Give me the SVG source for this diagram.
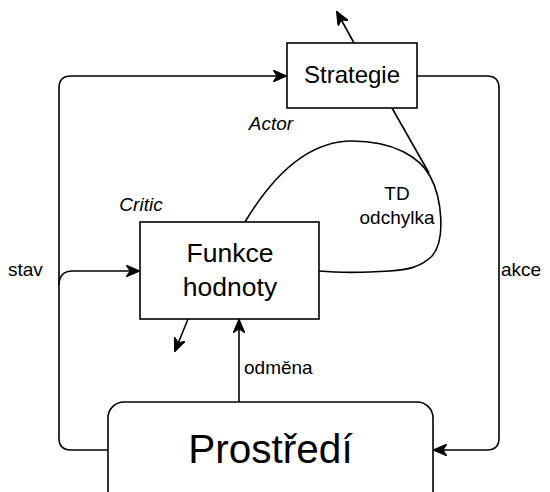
<svg xmlns="http://www.w3.org/2000/svg" width="550" height="492" viewBox="0 0 550 492">
  <style>
    .box { fill: #ffffff; stroke: #000000; stroke-width: 1.6; }
    .edge { fill: none; stroke: #000000; stroke-width: 1.6; }
    .arrow { marker-end: url(#arrowhead); }
    text { font-family: "Liberation Sans", Arial, sans-serif; fill: #000000; }
    .lbl { font-size: 19px; }
    .it { font-size: 19px; font-style: italic; }
  </style>
  <defs>
    <marker id="arrowhead" viewBox="0 0 14 12" markerWidth="14" markerHeight="12" refX="13" refY="6" orient="auto" markerUnits="userSpaceOnUse">
      <path d="M0,0 L14,6 L0,12 L4,6 Z" fill="#000000" stroke="#000000" stroke-width="1"/>
    </marker>
  </defs>

  <rect width="550" height="492" fill="#ffffff"/>

  <!-- connectors -->
  <g id="connectors">
    <!-- stav -> Strategie -->
    <path class="edge arrow" d="M108,450 L71,450 Q59,450 59,438 L59,88 Q59,76 71,76 L286,76"/>
    <!-- stav -> Funkce hodnoty -->
    <path class="edge arrow" d="M59,285 Q59,271 73,271 L139,271"/>
    <!-- akce -> Prostředí -->
    <path class="edge arrow" d="M417,76 L487,76 Q499,76 499,88 L499,438 Q499,450 487,450 L434,450"/>
    <!-- odměna -->
    <path class="edge arrow" d="M239,402 L239,320"/>
    <!-- outputs -->
    <path class="edge arrow" d="M354,43 L337,12"/>
    <path class="edge arrow" d="M188,319 L175,351"/>
    <!-- TD error loop -->
    <path class="edge" d="M245,222 C275,172 310,141 352,141 C395,141 420,158 430,176 C442,198 446,240 432,256 C420,268 405,270 390,271 C360,273 340,273 319,271"/>
    <path class="edge" d="M392,108 L429,173"/>
  </g>

  <!-- nodes -->
  <g id="strategie">
    <rect class="box" x="287" y="43" width="130" height="65"/>
    <text x="352" y="83" font-size="24" text-anchor="middle">Strategie</text>
  </g>
  <g id="funkce-hodnoty">
    <rect class="box" x="140" y="222" width="179" height="97"/>
    <text x="230" y="262" font-size="26.5" text-anchor="middle">Funkce</text>
    <text x="230" y="296" font-size="26.5" text-anchor="middle">hodnoty</text>
  </g>
  <g id="prostredi">
    <rect class="box" x="108" y="402" width="325" height="110" rx="16" ry="16"/>
    <text x="270.5" y="463" font-size="40.5" text-anchor="middle">Prostředí</text>
  </g>

  <!-- labels -->
  <g id="labels">
    <text class="it" x="271" y="130" text-anchor="middle">Actor</text>
    <text class="it" x="141" y="211" text-anchor="middle">Critic</text>
    <text class="lbl" x="397" y="200" text-anchor="middle">TD</text>
    <text class="lbl" x="397" y="224" text-anchor="middle">odchylka</text>
    <text class="lbl" x="8" y="276">stav</text>
    <text class="lbl" x="501" y="276">akce</text>
    <text class="lbl" x="244" y="374">odměna</text>
  </g>
</svg>
